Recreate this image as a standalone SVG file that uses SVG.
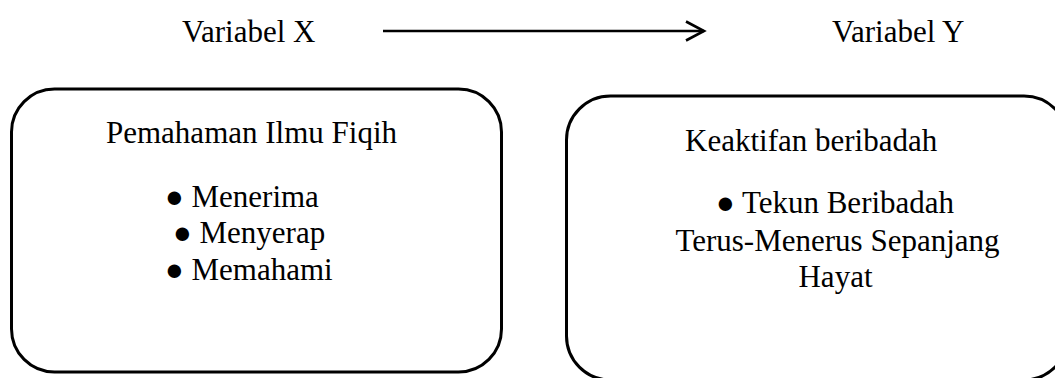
<svg xmlns="http://www.w3.org/2000/svg" width="1055" height="378" viewBox="0 0 1055 378">
<style>
text{font-family:"Liberation Serif","Times New Roman",serif;font-size:31px;fill:#000}
.box{fill:#fff;stroke:#000;stroke-width:3}
.conn{stroke:#000;stroke-width:2.6;fill:none}
</style>
<defs>
<marker id="chev" markerUnits="userSpaceOnUse" viewBox="0 0 22 22" markerWidth="22" markerHeight="22" refX="19" refY="11" orient="auto" overflow="visible">
<path d="M1,1.5 L19,11 L1,20.5" fill="none" stroke="#000" stroke-width="2.6"/>
</marker>
</defs>
<rect width="1055" height="378" fill="#fff"/>
<g id="label-x"><text x="182" y="42">Variabel X</text></g>
<g id="label-y"><text x="832" y="42">Variabel Y</text></g>
<g id="connectors">
<path class="conn" d="M383,31 L704,31" marker-end="url(#chev)"/>
</g>
<g id="node-x">
<rect class="box" x="11.5" y="89" width="490" height="283" rx="43" ry="43"/>
<text x="106" y="143">Pemahaman Ilmu Fiqih</text>
<text x="165" y="207">● Menerima</text>
<text x="173" y="243">● Menyerap</text>
<text x="165" y="280">● Memahami</text>
</g>
<g id="node-y">
<rect class="box" x="566.5" y="96" width="501.5" height="284" rx="44" ry="44"/>
<text x="685" y="151">Keaktifan beribadah</text>
<text x="716" y="213">● Tekun Beribadah</text>
<text x="837.5" y="251" text-anchor="middle">Terus-Menerus Sepanjang</text>
<text x="835.5" y="287" text-anchor="middle">Hayat</text>
</g>
</svg>
